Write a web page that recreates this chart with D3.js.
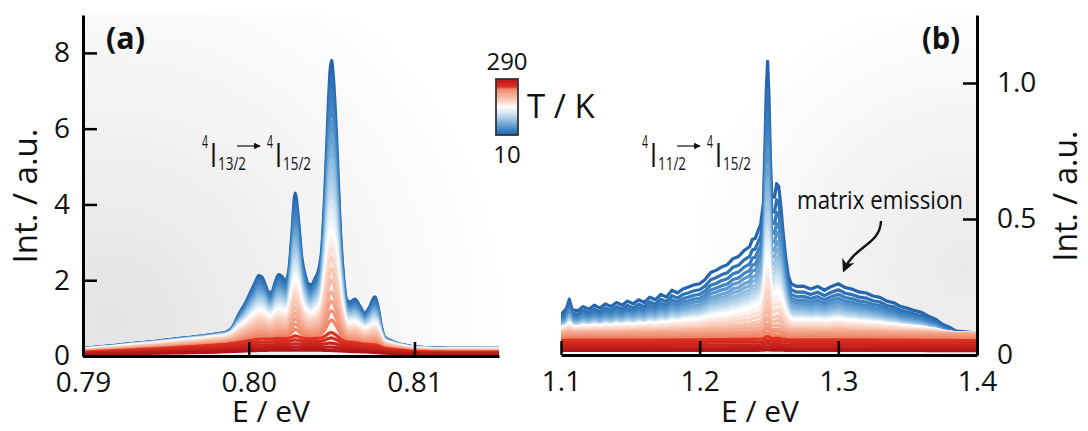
<!DOCTYPE html>
<html>
<head>
<meta charset="utf-8">
<script src="https://cdn.jsdelivr.net/npm/d3@7"></script>
<style>
  body { margin: 0; background: #fff; }
  svg { display: block; }
  text { font-family: 'Open Sans', sans-serif; fill: #111; }
</style>
</head>
<body>
<svg id="chart" width="1088" height="431"></svg>
<script>
// temperatures of the spectra (K)
const temps = [10, 20, 30, 40, 50, 60, 70, 80, 90, 100, 110, 120, 130, 140, 150,
               160, 170, 180, 190, 200, 210, 220, 230, 240, 250, 260, 270, 280, 290];

// panel (a): 10 K spectrum and its broad background
const specA_E = [0.7900, 0.7910, 0.7920, 0.7930, 0.7940, 0.7950, 0.7960, 0.7970, 0.7980, 0.7986,
                 0.7990, 0.7994, 0.7998, 0.8001, 0.8004, 0.8006, 0.8008, 0.8010, 0.8012, 0.8014,
                 0.8016, 0.8018, 0.8020, 0.8022, 0.8024, 0.8026, 0.8028, 0.8030, 0.8032, 0.8034,
                 0.8036, 0.8038, 0.8040, 0.8042, 0.8044, 0.8046, 0.8048, 0.8049, 0.8050, 0.8051,
                 0.8053, 0.8055, 0.8057, 0.8059, 0.8061, 0.8064, 0.8067, 0.8070, 0.8073, 0.8076,
                 0.8078, 0.8080, 0.8082, 0.8086, 0.8090, 0.8095, 0.8100, 0.8120, 0.8151];
const specA_I = [0.20, 0.24, 0.28, 0.33, 0.37, 0.42, 0.47, 0.52, 0.58, 0.62,
                 0.75, 1.10, 1.40, 1.68, 1.95, 2.12, 2.08, 1.88, 1.68, 1.70,
                 1.95, 2.15, 2.10, 1.98, 2.20, 3.20, 4.30, 3.60, 2.60, 2.15,
                 1.90, 1.88, 2.05, 2.25, 2.80, 4.40, 6.60, 7.50, 7.80, 7.40,
                 5.80, 3.60, 2.20, 1.50, 1.42, 1.50, 1.32, 1.13, 1.30, 1.56,
                 1.30, 0.78, 0.50, 0.40, 0.33, 0.28, 0.24, 0.20, 0.20];
const bgA_I   = [0.20, 0.24, 0.28, 0.33, 0.37, 0.42, 0.47, 0.52, 0.58, 0.62,
                 0.66, 0.70, 0.74, 0.77, 0.80, 0.81, 0.82, 0.83, 0.84, 0.84,
                 0.85, 0.85, 0.85, 0.85, 0.85, 0.85, 0.85, 0.85, 0.85, 0.85,
                 0.85, 0.85, 0.85, 0.85, 0.84, 0.83, 0.82, 0.81, 0.80, 0.79,
                 0.77, 0.75, 0.72, 0.70, 0.68, 0.65, 0.62, 0.59, 0.56, 0.52,
                 0.49, 0.45, 0.40, 0.36, 0.32, 0.28, 0.24, 0.20, 0.20];
// per-temperature weight of the sharp lines and of the background (panel a)
const facA = [1.000, 0.943, 0.887, 0.831, 0.774, 0.726, 0.677, 0.636, 0.594, 0.551,
              0.517, 0.483, 0.449, 0.414, 0.379, 0.347, 0.316, 0.284, 0.246, 0.209,
              0.170, 0.139, 0.107, 0.076, 0.031, 0.020, 0.010, 0.004, 0.000];
const bgFacA = [1.00, 1.00, 0.99, 0.98, 0.97, 0.96, 0.95, 0.94, 0.93, 0.92,
                0.91, 0.90, 0.89, 0.88, 0.87, 0.84, 0.80, 0.76, 0.72, 0.68,
                0.64, 0.60, 0.56, 0.52, 0.50, 0.42, 0.34, 0.26, 0.18];

// panel (b): 10 K spectrum
const specB_E = [1.100, 1.104, 1.106, 1.108, 1.112, 1.116, 1.120, 1.124, 1.128, 1.132,
                 1.136, 1.140, 1.144, 1.148, 1.152, 1.156, 1.160, 1.164, 1.168, 1.172,
                 1.176, 1.180, 1.184, 1.188, 1.192, 1.196, 1.200, 1.204, 1.208, 1.212,
                 1.216, 1.220, 1.224, 1.228, 1.232, 1.236, 1.238, 1.240, 1.242, 1.244,
                 1.246, 1.247, 1.248, 1.249, 1.250, 1.251, 1.252, 1.254, 1.2555, 1.257,
                 1.2585, 1.260, 1.262, 1.264, 1.266, 1.270, 1.275, 1.280, 1.285, 1.290,
                 1.295, 1.300, 1.305, 1.310, 1.315, 1.320, 1.325, 1.330, 1.335, 1.340,
                 1.345, 1.350, 1.355, 1.360, 1.365, 1.370, 1.375, 1.380, 1.385, 1.390,
                 1.395, 1.400];
const specB_I = [0.148, 0.172, 0.205, 0.166, 0.163, 0.178, 0.168, 0.183, 0.172, 0.188,
                 0.178, 0.193, 0.183, 0.198, 0.188, 0.203, 0.193, 0.213, 0.203, 0.223,
                 0.213, 0.238, 0.228, 0.243, 0.250, 0.258, 0.262, 0.278, 0.303, 0.312,
                 0.324, 0.332, 0.354, 0.362, 0.384, 0.398, 0.425, 0.428, 0.455, 0.480,
                 0.560, 0.750, 0.970, 1.080, 0.950, 0.720, 0.580, 0.580, 0.630, 0.620,
                 0.550, 0.460, 0.360, 0.290, 0.262, 0.252, 0.253, 0.243, 0.252, 0.238,
                 0.252, 0.262, 0.248, 0.242, 0.232, 0.228, 0.217, 0.212, 0.198, 0.192,
                 0.178, 0.172, 0.163, 0.157, 0.143, 0.132, 0.113, 0.102, 0.088, 0.086,
                 0.083, 0.080];
const facB = [1.00, 0.90, 0.82, 0.75, 0.69, 0.63, 0.58, 0.53, 0.49, 0.45, 0.41, 0.38, 0.35, 0.32, 0.29,
              0.24, 0.20, 0.16, 0.12, 0.09, 0.06, 0.04, 0.03, 0.02, 0.015, 0.01, 0.008, 0.005, 0.003];
const floorB = [0, 0.004, 0.008, 0.012, 0.016, 0.020, 0.024, 0.028, 0.032, 0.036, 0.040, 0.044, 0.048, 0.052, 0.056,
                0.060, 0.064, 0.066, 0.068, 0.070, 0.072, 0.070, 0.066, 0.060, 0.052, 0.044, 0.034, 0.025, 0.016];

// ticks
const xTicksA = [0.79, 0.80, 0.81];
const xTickLabelsA = ['0.79', '0.80', '0.81'];
const yTicksA = [0, 2, 4, 6, 8];
const yTickLabelsA = ['0', '2', '4', '6', '8'];
const xTicksB = [1.1, 1.2, 1.3, 1.4];
const xTickLabelsB = ['1.1', '1.2', '1.3', '1.4'];
const yTicksB = [0, 0.5, 1.0];
const yTickLabelsB = ['0', '0.5', '1.0'];
const colorbarLabels = ['290', '10'];

const svg = d3.select('#chart');

// colour of a temperature (blue - white - red)
const color = d3.scaleLinear()
  .domain([10, 40, 80, 120, 150, 180, 240, 250, 290])
  .range(['#2566ae', '#4287c4', '#8fbee1', '#d5e7f4', '#ffffff', '#fbd3c3', '#ef8768', '#e0321f', '#b3161a']);

const xA = d3.scaleLinear().domain([0.79, 0.8151]).range([83, 499]);
const yA = d3.scaleLinear().domain([0, 9.0]).range([356, 15]);
const xB = d3.scaleLinear().domain([1.1, 1.4]).range([561, 977]);
const yB = d3.scaleLinear().domain([0, 1.25]).range([355, 15]);

// background shading
const defs = svg.append('defs');
const gA = defs.append('radialGradient').attr('id', 'bgA')
  .attr('gradientUnits', 'userSpaceOnUse').attr('cx', 110).attr('cy', 320).attr('r', 400);
gA.append('stop').attr('offset', 0).attr('stop-color', '#e3e3e3');
gA.append('stop').attr('offset', 0.55).attr('stop-color', '#f3f3f3');
gA.append('stop').attr('offset', 1).attr('stop-color', '#ffffff');
const gB = defs.append('radialGradient').attr('id', 'bgB')
  .attr('gradientUnits', 'userSpaceOnUse').attr('cx', 965).attr('cy', 270).attr('r', 280);
gB.append('stop').attr('offset', 0).attr('stop-color', '#e9e9e9');
gB.append('stop').attr('offset', 0.6).attr('stop-color', '#f6f6f6');
gB.append('stop').attr('offset', 1).attr('stop-color', '#ffffff');

svg.append('rect').attr('x', xA.range()[0]).attr('y', yA.range()[1])
  .attr('width', xA.range()[1] - xA.range()[0]).attr('height', yA.range()[0] - yA.range()[1])
  .attr('fill', 'url(#bgA)');
svg.append('rect').attr('x', xB.range()[0]).attr('y', yB.range()[1])
  .attr('width', xB.range()[1] - xB.range()[0]).attr('height', yB.range()[0] - yB.range()[1])
  .attr('fill', 'url(#bgB)');

// clip the thick lines to each plot box
[['clipA', xA, yA], ['clipB', xB, yB]].forEach(([id, x, y]) => {
  defs.append('clipPath').attr('id', id).append('rect')
    .attr('x', x.range()[0]).attr('y', y.range()[1])
    .attr('width', x.range()[1] - x.range()[0]).attr('height', y.range()[0] - y.range()[1]);
});

function drawSpectra(series, x, y, curve, clip) {
  const line = d3.line().x(d => x(d[0])).y(d => y(d[1])).curve(curve);
  const g = svg.append('g').attr('clip-path', `url(#${clip})`);
  series.forEach(s => {
    g.append('path').attr('d', line(s.pts)).attr('fill', 'none')
      .attr('stroke', color(s.T)).attr('stroke-width', 3.2).attr('stroke-linejoin', 'round');
  });
}

const seriesA = temps.map((T, i) => ({
  T,
  pts: specA_E.map((e, j) => [e, facA[i] * (specA_I[j] - bgA_I[j]) + bgFacA[i] * bgA_I[j]])
}));
const seriesB = temps.map((T, i) => ({
  T,
  pts: specB_E.map((e, j) => [e, facB[i] * specB_I[j] + floorB[i]])
}));

drawSpectra(seriesA, xA, yA, d3.curveMonotoneX, 'clipA');
drawSpectra(seriesB, xB, yB, d3.curveLinear, 'clipB');

// axes
function styleAxis(g) {
  g.selectAll('path.domain').attr('stroke', '#000').attr('stroke-width', 3);
  g.selectAll('.tick line').attr('stroke', '#000').attr('stroke-width', 2.5);
  g.selectAll('.tick text').style('font-size', '28px').attr('fill', '#111');
}

svg.append('g').attr('transform', `translate(0,${yA(0)})`)
  .call(d3.axisBottom(xA).tickValues(xTicksA).tickFormat((d, i) => xTickLabelsA[i])
    .tickSize(-14).tickSizeOuter(0).tickPadding(16))
  .call(styleAxis);
svg.append('g').attr('transform', `translate(${xA.range()[0]},0)`)
  .call(d3.axisLeft(yA).tickValues(yTicksA).tickFormat((d, i) => yTickLabelsA[i])
    .tickSize(-14).tickSizeOuter(0).tickPadding(13))
  .call(styleAxis);
svg.append('g').attr('transform', `translate(0,${yB(0)})`)
  .call(d3.axisBottom(xB).tickValues(xTicksB).tickFormat((d, i) => xTickLabelsB[i])
    .tickSize(-14).tickSizeOuter(0).tickPadding(16))
  .call(styleAxis);
svg.append('g').attr('transform', `translate(${xB.range()[1]},0)`)
  .call(d3.axisRight(yB).tickValues(yTicksB).tickFormat((d, i) => yTickLabelsB[i])
    .tickSize(-14).tickSizeOuter(0).tickPadding(20))
  .call(styleAxis);

// axis titles
svg.append('text').attr('transform', 'translate(37,196) rotate(-90)')
  .attr('text-anchor', 'middle').style('font-size', '33px').text('Int. / a.u.');
svg.append('text').attr('transform', 'translate(1077,196) rotate(-90)')
  .attr('text-anchor', 'middle').style('font-size', '32px').text('Int. / a.u.');
svg.append('text').attr('x', 271).attr('y', 422).attr('text-anchor', 'middle')
  .style('font-size', '30px').text('E / eV');
svg.append('text').attr('x', 760).attr('y', 422).attr('text-anchor', 'middle')
  .style('font-size', '30px').text('E / eV');

// panel letters
svg.append('text').attr('x', 106).attr('y', 49).style('font-size', '30px')
  .style('font-weight', 'bold').attr('textLength', 39).attr('lengthAdjust', 'spacingAndGlyphs').text('(a)');
svg.append('text').attr('x', 922).attr('y', 49).style('font-size', '30px')
  .style('font-weight', 'bold').attr('textLength', 38).attr('lengthAdjust', 'spacingAndGlyphs').text('(b)');

// colour bar
const cb = defs.append('linearGradient').attr('id', 'cbar')
  .attr('x1', 0).attr('y1', 1).attr('x2', 0).attr('y2', 0);
color.domain().forEach(T => {
  cb.append('stop').attr('offset', (T - 10) / 280).attr('stop-color', color(T));
});
svg.append('rect').attr('x', 496).attr('y', 79).attr('width', 22).attr('height', 56)
  .attr('fill', 'url(#cbar)').attr('stroke', '#333').attr('stroke-width', 1.8);
svg.append('text').attr('x', 507).attr('y', 70).attr('text-anchor', 'middle')
  .style('font-size', '24px').text(colorbarLabels[0]);
svg.append('text').attr('x', 507).attr('y', 163).attr('text-anchor', 'middle')
  .style('font-size', '24px').text(colorbarLabels[1]);
svg.append('text').attr('x', 527).attr('y', 118).style('font-size', '33px').text('T / K');

// transition labels
defs.append('marker').attr('id', 'ah').attr('viewBox', '0 0 10 10')
  .attr('refX', 9).attr('refY', 5).attr('markerWidth', 7).attr('markerHeight', 7)
  .attr('markerUnits', 'userSpaceOnUse').attr('orient', 'auto')
  .append('path').attr('d', 'M0,0 L10,5 L0,10 Z').attr('fill', '#111');

function transition(x0, sub1) {
  const g = svg.append('g').attr('transform', `translate(${x0},0)`);
  const piece = (x, y, size, len, s) => g.append('text').attr('x', x).attr('y', y)
    .style('font-size', size + 'px').attr('textLength', len)
    .attr('lengthAdjust', 'spacingAndGlyphs').text(s);
  piece(0, 148, 18, 6, '4');
  piece(8, 167, 32, 7, 'I');
  piece(16, 170, 18, 28, sub1);
  g.append('line').attr('x1', 35).attr('y1', 146).attr('x2', 58).attr('y2', 146)
    .attr('stroke', '#111').attr('stroke-width', 1.2).attr('marker-end', 'url(#ah)');
  piece(65, 148, 18, 6, '4');
  piece(73, 167, 32, 7, 'I');
  piece(81, 170, 18, 28, '15/2');
}
transition(202, '13/2');
transition(642, '11/2');

// matrix emission note
svg.append('text').attr('x', 797).attr('y', 209).style('font-size', '26px')
  .attr('textLength', 166).attr('lengthAdjust', 'spacingAndGlyphs').text('matrix emission');
defs.append('marker').attr('id', 'ah2').attr('viewBox', '0 0 10 10')
  .attr('refX', 8).attr('refY', 5).attr('markerWidth', 13).attr('markerHeight', 13)
  .attr('markerUnits', 'userSpaceOnUse').attr('orient', 'auto')
  .append('path').attr('d', 'M0,0 L10,5 L0,10 L3,5 Z').attr('fill', '#111');
svg.append('path').attr('d', 'M881,221 C880,245 855,245 844,270')
  .attr('fill', 'none').attr('stroke', '#111').attr('stroke-width', 2.4)
  .attr('marker-end', 'url(#ah2)');
</script>
</body>
</html>
